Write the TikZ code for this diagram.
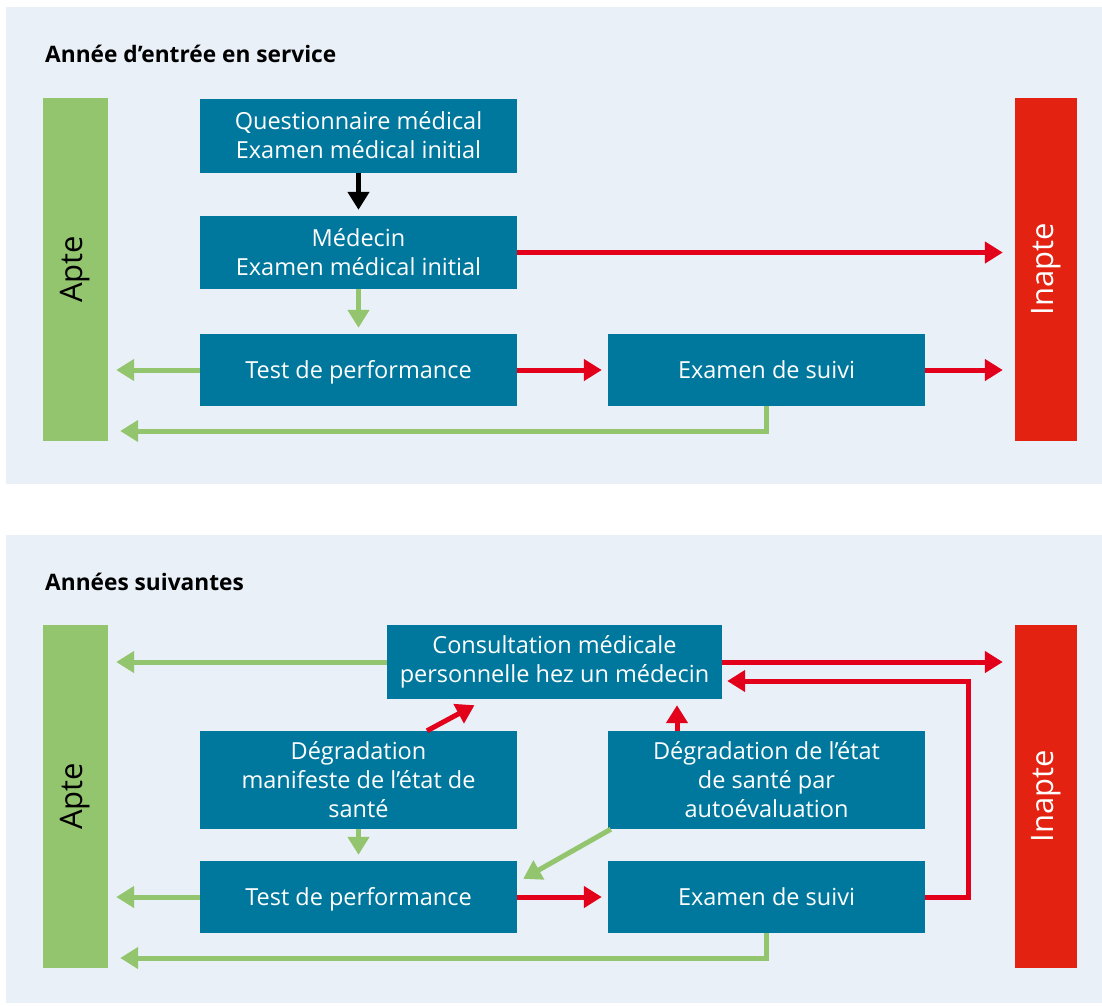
\documentclass[tikz,border=0pt]{standalone}
\usepackage{fontspec}
\setmainfont{Open Sans}
\usetikzlibrary{arrows.meta}
\definecolor{panelbg}{HTML}{E9F0F7}
\definecolor{boxblue}{HTML}{00789E}
\definecolor{fitgreen}{HTML}{93C46E}
\definecolor{arrred}{HTML}{E2001A}
\definecolor{barred}{HTML}{E32212}
\begin{document}
\begin{tikzpicture}[x=1pt,y=-1pt,
  box/.style={fill=boxblue, text=white, inner sep=0pt, minimum width=317pt, minimum height=73pt, align=center, font=\fontsize{23.5}{29}\selectfont},
  oneline/.style={text height=17pt, text depth=0pt},
  greenbar/.style={fill=fitgreen, inner sep=0pt, minimum width=65pt, minimum height=343pt},
  redbar/.style={fill=barred, inner sep=0pt, minimum width=62pt, minimum height=343pt},
  barlabel/.style={rotate=90, font=\fontsize{31}{36}\selectfont},
  garrow/.style={draw=fitgreen, line width=5pt, -{Triangle[length=18pt,width=21pt]}},
  rarrow/.style={draw=arrred, line width=5pt, -{Triangle[length=18pt,width=21pt]}},
  karrow/.style={draw=black, line width=4.5pt, -{Triangle[length=18pt,width=21pt]}},
  heading/.style={anchor=base west, inner sep=0pt, font=\fontsize{22.7}{27}\selectfont\bfseries}
]
\useasboundingbox (0,0) rectangle (1102,1005);
\fill[white] (0,0) rectangle (1102,1005);
% panels
\fill[panelbg] (6,7) rectangle (1102,484);
\fill[panelbg] (6,535) rectangle (1102,1003);

% ---------- Panel 1 ----------
\node[heading] (t1) at (45,62) {Année d’entrée en service};
\node[greenbar, label={[barlabel]center:Apte}] (apte1) at (75.5,269.5) {};
\node[redbar, label={[barlabel, text=white]center:Inapte}] (inapte1) at (1046,269.5) {};
\node[box, minimum height=74pt] (q) at (358.5,135.5) {Questionnaire médical\\Examen médical initial};
\node[box] (med) at (358.5,252.5) {Médecin\\Examen médical initial};
\node[box, oneline, minimum height=72pt] (test1) at (358.5,370) {Test de performance};
\node[box, oneline, minimum height=72pt] (exam1) at (766.5,370) {Examen de suivi};

\draw[karrow, shorten >=6pt] (q.south) -- (med.north);
\draw[garrow, shorten >=6pt] (med.south) -- (test1.north);
\draw[rarrow, shorten >=12pt] (med.east) -- (inapte1.west |- med.east);
\draw[garrow, shorten >=8pt] (test1.west) -- (apte1.east |- test1.west);
\draw[rarrow, shorten >=6pt] (test1.east) -- (exam1.west);
\draw[rarrow, shorten >=12pt] (exam1.east) -- (inapte1.west |- exam1.east);
\draw[garrow, shorten >=12pt] (exam1.south) |- (apte1.east |- 0,431);

% ---------- Panel 2 ----------
\node[heading] (t2) at (45,590) {Années suivantes};
\node[greenbar, label={[barlabel]center:Apte}] (apte2) at (75.5,796.5) {};
\node[redbar, label={[barlabel, text=white]center:Inapte}] (inapte2) at (1046,796.5) {};
\node[box, minimum width=335pt, minimum height=74pt] (consult) at (554.5,662) {Consultation médicale\\personnelle hez un médecin};
\node[box, minimum height=98pt] (manif) at (358.5,780) {Dégradation\\manifeste de l’état de\\santé};
\node[box, minimum height=98pt] (auto) at (766.5,780) {Dégradation de l’état\\de santé par\\autoévaluation};
\node[box, oneline, minimum height=72pt] (test2) at (358.5,897) {Test de performance};
\node[box, oneline, minimum height=72pt] (exam2) at (766.5,897) {Examen de suivi};
\coordinate (ret) at (968,681);

\draw[garrow, shorten >=8pt] (consult.west) -- (apte2.east |- consult.west);
\draw[rarrow, shorten >=12pt] (consult.east) -- (inapte2.west |- consult.east);
\draw[rarrow, shorten >=5pt] (exam2.east) -| (ret) -- (consult.east |- ret);
\draw[rarrow] ([xshift=68.5pt]manif.north) -- ([xshift=-80pt,yshift=-6pt]consult.south);
\draw[rarrow, shorten >=6pt] ([xshift=-89.5pt]auto.north) -- ([xshift=-89.5pt]auto.north |- consult.south);
\draw[garrow, shorten >=6pt] (manif.south) -- (test2.north);
\draw[garrow] ([xshift=3pt]auto.south west) -- ([xshift=6pt,yshift=-18pt]test2.north east);
\draw[garrow, shorten >=8pt] (test2.west) -- (apte2.east |- test2.west);
\draw[rarrow, shorten >=6pt] (test2.east) -- (exam2.west);
\draw[garrow, shorten >=12pt] (exam2.south) |- (apte2.east |- 0,958);
\end{tikzpicture}
\end{document}
